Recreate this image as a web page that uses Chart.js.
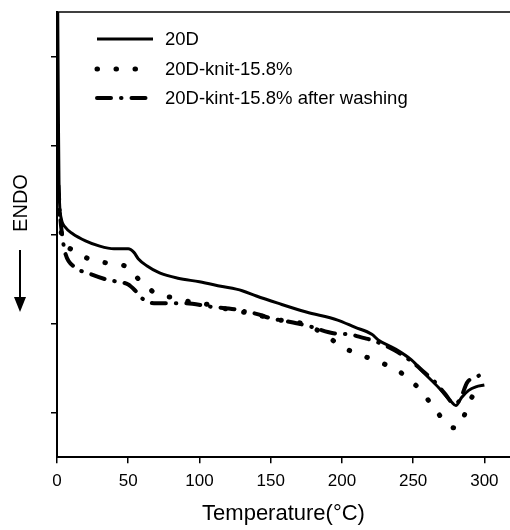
<!DOCTYPE html>
<html>
<head>
<meta charset="utf-8">
<script src="https://cdn.jsdelivr.net/npm/chart.js@4.4.1/dist/chart.umd.min.js"></script>
<style>
  html, body { margin: 0; padding: 0; background: #fff; }
  #wrap { width: 510px; height: 530px; position: relative; }
</style>
</head>
<body>
<div id="wrap"><canvas id="c" width="510" height="530"></canvas></div>
<script>
// ---- data ----
const seriesNames = ['20D', '20D-knit-15.8%', '20D-kint-15.8% after washing'];

const solidT = [0.5, 0.8, 1.1, 1.4, 1.8, 3, 6, 11, 20, 30, 40, 50, 54, 57, 63, 72, 85, 100, 115, 130, 140, 155, 175, 197, 209, 221, 226, 237, 249, 258, 268, 277, 280, 284, 289, 294, 300];
const solidV = [5.05, 4.3, 3.6, 3.1, 2.85, 2.68, 2.58, 2.51, 2.43, 2.37, 2.34, 2.34, 2.30, 2.23, 2.15, 2.07, 2.01, 1.97, 1.92, 1.87, 1.81, 1.73, 1.63, 1.54, 1.46, 1.38, 1.31, 1.22, 1.09, 0.94, 0.78, 0.62, 0.58, 0.67, 0.75, 0.79, 0.81];

const knitT = [1, 2, 5, 12, 19, 32, 45, 50, 56, 63, 69, 82, 95, 108, 120, 134, 148, 160, 170, 187, 200, 213, 226, 239.5, 253, 264, 274.5, 279, 283, 288.5, 293, 300];
const knitV = [2.95, 2.65, 2.43, 2.32, 2.25, 2.19, 2.16, 2.13, 2.02, 1.92, 1.84, 1.79, 1.74, 1.71, 1.66, 1.62, 1.57, 1.53, 1.51, 1.39, 1.24, 1.15, 1.07, 0.97, 0.79, 0.57, 0.36, 0.33, 0.36, 0.58, 0.72, 0.80];

const washT = [1, 2, 4, 6, 13, 23, 36, 43, 50, 55, 60, 68, 90, 108, 125, 140, 150, 160, 175, 195, 205, 215, 222, 237, 250, 258, 265, 272, 279, 283, 288, 294, 300];
const washV = [3.05, 2.75, 2.45, 2.28, 2.13, 2.06, 1.99, 1.97, 1.94, 1.87, 1.78, 1.73, 1.73, 1.69, 1.66, 1.61, 1.56, 1.53, 1.48, 1.39, 1.38, 1.34, 1.31, 1.20, 1.06, 0.95, 0.85, 0.72, 0.60, 0.65, 0.84, 0.90, 0.94];

const xTicks = [0, 50, 100, 150, 200, 250, 300];
const yTicks = [0.5, 1.5, 2.5, 3.5, 4.5];
const yLabel = 'ENDO';
const xLabel = 'Temperature(°C)';

const FONT = '"Liberation Sans", Arial, Helvetica, sans-serif';

function pts(t, v) { return t.map((x, i) => ({ x: x, y: v[i] })); }

const decoPlugin = {
  id: 'deco',
  afterDatasetsDraw(chart) {
    const ctx = chart.ctx;
    const rows = [39, 69, 98];
    chart.data.datasets.forEach((ds, i) => {
      ctx.save();
      ctx.strokeStyle = ds.borderColor;
      ctx.lineWidth = ds.borderWidth;
      ctx.lineCap = ds.borderCapStyle || 'butt';
      ctx.setLineDash(ds.borderDash || []);
      ctx.beginPath();
      ctx.moveTo(97, rows[i]);
      ctx.lineTo(153, rows[i]);
      ctx.stroke();
      ctx.restore();
      ctx.save();
      ctx.fillStyle = '#000';
      ctx.font = '18.5px ' + FONT;
      ctx.textBaseline = 'middle';
      ctx.fillText(ds.label, 165, rows[i] + 1);
      ctx.restore();
    });
  },
  afterDraw(chart) {
    const ctx = chart.ctx;
    const a = chart.chartArea;
    ctx.save();
    // top frame line
    ctx.strokeStyle = '#000';
    ctx.lineWidth = 1.5;
    ctx.beginPath();
    ctx.moveTo(a.left, a.top);
    ctx.lineTo(a.right, a.top);
    ctx.stroke();
    // y-axis label (rotated)
    ctx.save();
    ctx.translate(21, 203);
    ctx.rotate(-Math.PI / 2);
    ctx.fillStyle = '#000';
    ctx.font = '20px ' + FONT;
    ctx.textAlign = 'center';
    ctx.textBaseline = 'middle';
    ctx.fillText(yLabel, 0, 0);
    ctx.restore();
    // ENDO arrow
    ctx.lineWidth = 2;
    ctx.beginPath();
    ctx.moveTo(20, 250);
    ctx.lineTo(20, 299);
    ctx.stroke();
    ctx.fillStyle = '#000';
    ctx.beginPath();
    ctx.moveTo(14, 297);
    ctx.lineTo(26, 297);
    ctx.lineTo(20, 312);
    ctx.closePath();
    ctx.fill();
    ctx.restore();
  }
};

new Chart(document.getElementById('c'), {
  type: 'line',
  data: {
    datasets: [
      { label: seriesNames[0], data: pts(solidT, solidV), borderColor: '#000', borderWidth: 3, pointRadius: 0, fill: false, cubicInterpolationMode: 'monotone' },
      { label: seriesNames[1], data: pts(knitT, knitV), borderColor: '#000', borderWidth: 5, borderDash: [0.5, 18.5], borderCapStyle: 'round', pointRadius: 0, fill: false, cubicInterpolationMode: 'monotone' },
      { label: seriesNames[2], data: pts(washT, washV), borderColor: '#000', borderWidth: 4, borderDash: [14, 10, 0.5, 10], borderCapStyle: 'round', pointRadius: 0, fill: false, cubicInterpolationMode: 'monotone' }
    ]
  },
  options: {
    responsive: false,
    animation: false,
    devicePixelRatio: 1,
    layout: { padding: { top: 12, right: 0, bottom: 1, left: 51 } },
    plugins: { legend: { display: false }, tooltip: { enabled: false } },
    scales: {
      x: {
        type: 'linear',
        min: 0, max: 318,
        afterBuildTicks: s => { s.ticks = xTicks.map(v => ({ value: v })); },
        grid: { display: true, drawOnChartArea: false, drawTicks: true, tickLength: 6, color: '#000', lineWidth: 1.5 },
        border: { display: true, color: '#000', width: 2 },
        ticks: { color: '#000', font: { family: FONT, size: 17 }, padding: 8, maxRotation: 0 },
        title: { display: true, text: xLabel, color: '#000', font: { family: FONT, size: 22 }, padding: { top: 1, bottom: 2 } }
      },
      y: {
        type: 'linear',
        min: 0, max: 5,
        afterBuildTicks: s => { s.ticks = yTicks.map(v => ({ value: v })); },
        grid: { display: true, drawOnChartArea: false, drawTicks: true, tickLength: 6, color: '#000', lineWidth: 1.5 },
        border: { display: true, color: '#000', width: 2 },
        ticks: { display: false },
        title: { display: false }
      }
    }
  },
  plugins: [decoPlugin]
});
</script>
</body>
</html>
